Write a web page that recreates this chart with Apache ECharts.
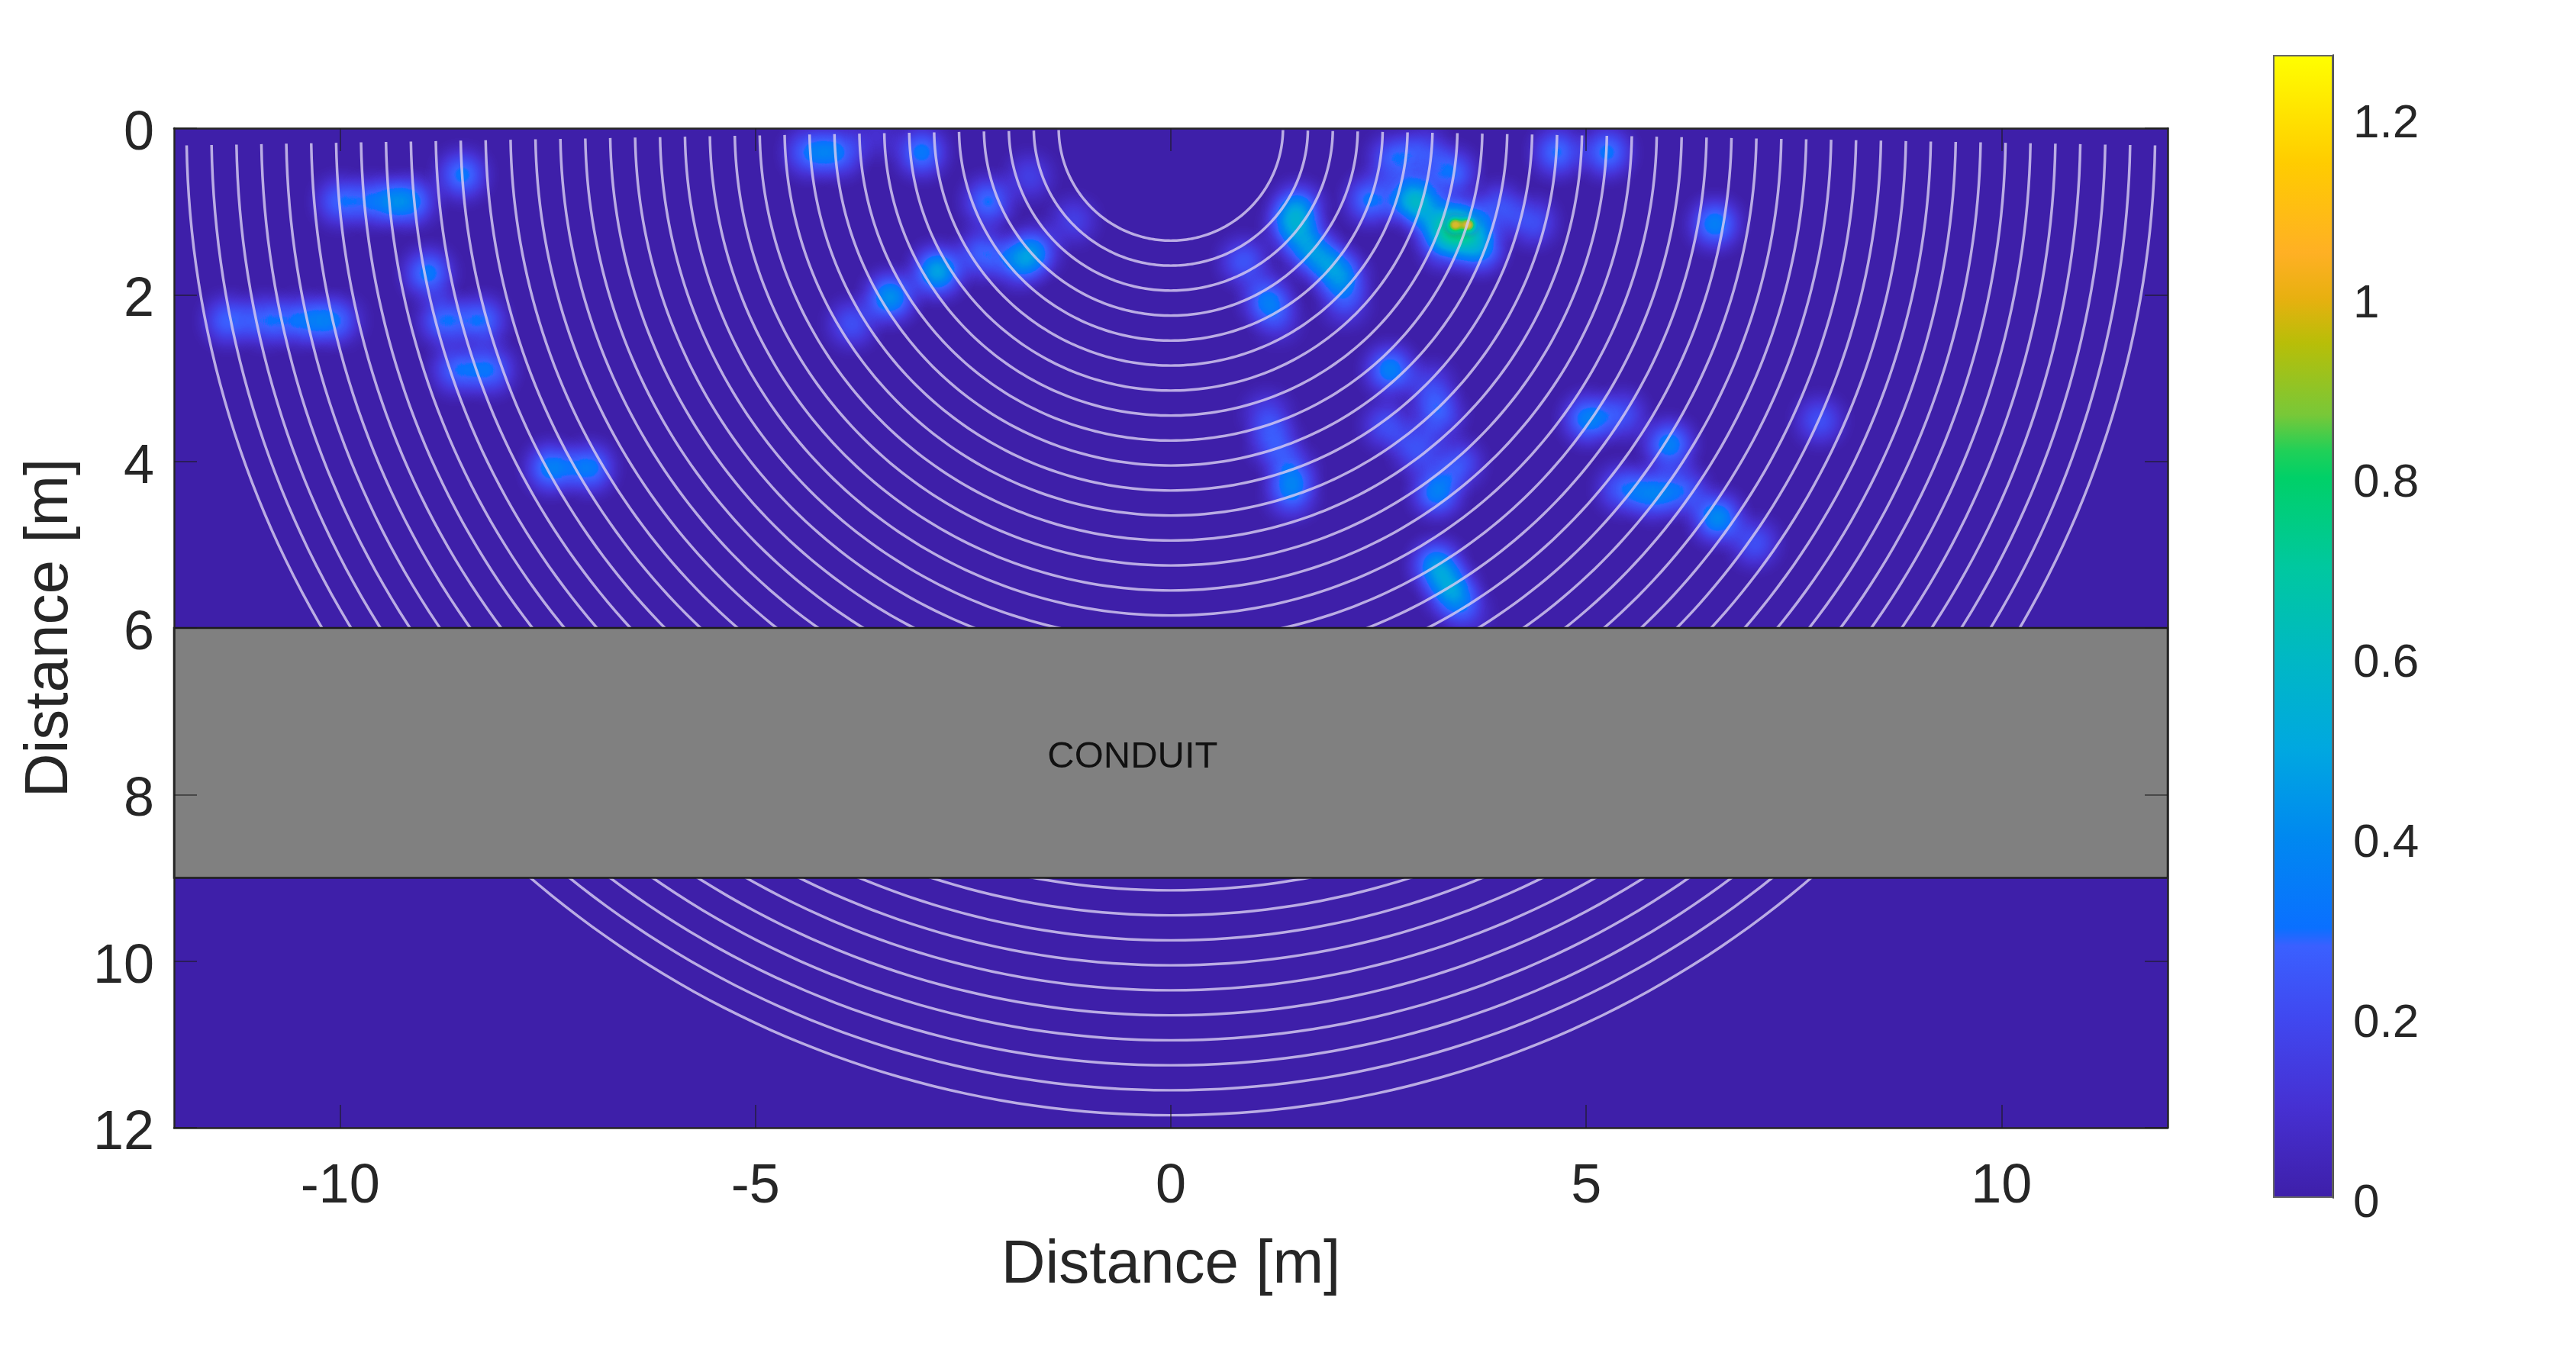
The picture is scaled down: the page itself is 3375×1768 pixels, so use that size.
<!DOCTYPE html>
<html><head><meta charset="utf-8">
<style>html,body{margin:0;padding:0;background:#fff}#c{width:3375px;height:1768px}</style>
<script src="https://cdn.jsdelivr.net/npm/echarts@6/dist/echarts.min.js"></script>
</head><body><div id="c"></div>
<script>
// ---- data ----
const xTicks = [-10, -5, 0, 5, 10];
const yTicks = [0, 2, 4, 6, 8, 10, 12];
const barTicks = [0, 0.2, 0.4, 0.6, 0.8, 1, 1.2];
const barMax = 1.27;
const ringRadii = [1.35,1.65,1.95,2.25,2.55,2.85,3.15,3.45,3.75,4.05,4.35,4.65,4.95,5.25,5.55,5.85,6.15,6.45,6.75,7.05,7.35,7.65,7.95,8.25,8.55,8.85,9.15,9.45,9.75,10.05,10.35,10.65,10.95,11.25,11.55,11.85];
const conduitDepth = [6, 9];
const spotX = [-4.35,-4.0,-3.0,-3.55,-8.53,-10.0,-9.6,-9.3,-9.1,-8.94,-11.35,-10.9,-10.5,-10.2,-10.0,-8.75,-8.3,-8.6,-8.2,-7.46,-7.0,
  -3.84,-3.38,-2.81,-2.27,-1.82,-1.63,-2.2,-1.7,-1.17,
  2.68,3.05,3.38,2.4,2.93,3.5,3.2,3.71,3.3,3.95,4.36,
  1.53,1.45,1.66,1.9,2.07,2.1,0.88,1.16,1.29,
  4.65,5.25,6.55,2.64,3.13,3.22,2.6,2.97,3.46,3.2,
  1.16,1.25,1.45,1.45,3.2,3.38,3.54,
  5.02,5.43,6.0,7.81,5.43,5.8,6.17,6.58,7.03];
const spotY = [0.29,0.29,0.29,0.1,0.56,0.88,0.88,0.88,0.88,1.74,2.31,2.31,2.31,2.31,2.31,2.31,2.31,2.9,2.9,4.08,4.08,
  2.35,2.03,1.72,1.51,1.6,1.47,0.88,0.58,1.11,
  0.375,0.29,0.54,0.86,0.86,1.17,1.13,1.43,1.38,0.96,1.13,
  0.96,1.17,1.43,1.64,1.8,2.1,1.6,2.06,2.31,
  0.29,0.29,1.15,2.9,3.1,3.44,3.57,3.86,4.03,4.37,
  3.44,3.78,4.12,4.39,5.25,5.55,5.8,
  3.49,3.44,3.8,3.51,4.33,4.39,4.35,4.68,4.98];
const spotV = [0.3,0.3,0.33,0.1,0.32,0.28,0.26,0.26,0.22,0.33,0.28,0.28,0.26,0.22,0.18,0.3,0.3,0.28,0.3,0.36,0.34,
  0.22,0.42,0.48,0.28,0.34,0.28,0.3,0.16,0.16,
  0.28,0.22,0.3,0.32,0.56,0.6,0.34,0.42,0.34,0.24,0.22,
  0.36,0.32,0.38,0.3,0.3,0.18,0.24,0.32,0.14,
  0.3,0.32,0.36,0.36,0.18,0.26,0.22,0.24,0.24,0.36,
  0.18,0.24,0.24,0.28,0.42,0.42,0.18,
  0.36,0.22,0.36,0.22,0.26,0.34,0.26,0.4,0.22];
const hotX = [3.42, 3.58];
const hotY = [1.16, 1.16];
const hotV = [1.1, 1.1];
const colorStops = [[0,'#3e1fa9'],[0.1,'#4630d2'],[0.2,'#4048f0'],[0.28,'#3a60ff'],[0.3,'#0a70ff'],[0.4,'#0088f0'],[0.5,'#00a8e0'],[0.6,'#00b8c4'],[0.7,'#00c8a0'],[0.8,'#00d068'],[0.83,'#20d058'],[0.87,'#78c838'],[0.95,'#b8be08'],[1.0,'#e8b010'],[1.05,'#ffb024'],[1.15,'#ffcc00'],[1.27,'#ffff00']];

// ---- layout / style ----
const G = {left:228, top:168, width:2612, height:1310};
const CB = {left:2978, top:72, width:79, height:1498};
const FONT = '"Liberation Sans", Arial, sans-serif';
const TXT = '#262626';
const brushPeak = 0.68;
const hotPeak = 0.99;

function hex(c){return [1,3,5].map(i=>parseInt(c.substr(i,2),16));}
function cmap(v){
  v=Math.max(0,Math.min(barMax,v));
  for(let i=1;i<colorStops.length;i++){
    const [a,ca]=colorStops[i-1],[b,cb]=colorStops[i];
    if(v<=b){const t=(v-a)/(b-a),A=hex(ca),B=hex(cb);
      return 'rgb('+A.map((x,k)=>Math.round(x+(B[k]-x)*t)).join(',')+')';}
  }
  return colorStops[colorStops.length-1][1];
}
const ramp=p=>{const c=[];for(let i=0;i<=255;i++)c.push(cmap(i/255*barMax/p));return c;};

echarts.registerMap('field',{type:'FeatureCollection',features:[{type:'Feature',properties:{name:'field'},
  geometry:{type:'Polygon',coordinates:[[[-12,0],[12,0],[12,-12],[-12,-12],[-12,0]]]}}]});

const tickStyle={color:'#1a1a1a',width:2,opacity:0.55};
const lineStyle={color:'#262626',width:2.5};
const chart=echarts.init(document.getElementById('c'),null,{renderer:'canvas'});
chart.setOption({
  animation:false,backgroundColor:'#fff',
  geo:{map:'field',left:G.left,top:G.top,width:G.width,height:G.height,aspectScale:G.width/G.height/2,roam:false,silent:true,
    itemStyle:{areaColor:'rgba(0,0,0,0)',borderWidth:0},label:{show:false}},
  grid:[{left:G.left,top:G.top,width:G.width,height:G.height,show:true,backgroundColor:colorStops[0][1],borderWidth:0,containLabel:false},
        {left:CB.left,top:CB.top,width:CB.width,height:CB.height,show:false}],
  visualMap:[{show:false,type:'continuous',min:0,max:barMax,seriesIndex:0,inRange:{color:ramp(brushPeak)},calculable:false},
             {show:false,type:'continuous',min:0,max:barMax,seriesIndex:1,inRange:{color:ramp(hotPeak)},calculable:false}],
  xAxis:[
    {type:'value',gridIndex:0,min:-12,max:12,position:'bottom',z:10,
     name:'Distance [m]',nameLocation:'middle',nameGap:141,nameTextStyle:{fontFamily:FONT,fontSize:80,color:TXT},
     axisLine:{lineStyle,onZero:false},splitLine:{show:false},
     axisTick:{inside:true,length:30,lineStyle:tickStyle,customValues:xTicks},
     axisLabel:{fontFamily:FONT,fontSize:72,color:TXT,margin:42,customValues:xTicks,formatter:v=>String(v)}},
    {type:'value',gridIndex:0,min:-12,max:12,position:'top',z:10,
     axisLine:{lineStyle,onZero:false},splitLine:{show:false},
     axisTick:{inside:true,length:30,lineStyle:tickStyle,customValues:xTicks},axisLabel:{show:false}},
    {type:'category',gridIndex:1,data:['scale'],show:false}
  ],
  yAxis:[
    {type:'value',gridIndex:0,min:0,max:12,interval:2,inverse:true,position:'left',z:10,
     name:'Distance [m]',nameLocation:'middle',nameGap:122,nameRotate:90,nameTextStyle:{fontFamily:FONT,fontSize:80,color:TXT},
     axisLine:{lineStyle,onZero:false},splitLine:{show:false},
     axisTick:{inside:true,length:30,lineStyle:tickStyle,customValues:yTicks},
     axisLabel:{fontFamily:FONT,fontSize:72,color:TXT,margin:26,verticalAlign:'top',lineHeight:16,customValues:yTicks,formatter:v=>String(v)}},
    {type:'value',gridIndex:0,min:0,max:12,interval:2,inverse:true,position:'right',z:10,
     axisLine:{lineStyle,onZero:false},splitLine:{show:false},
     axisTick:{inside:true,length:30,lineStyle:tickStyle,customValues:yTicks},axisLabel:{show:false}},
    {type:'value',gridIndex:1,min:0,max:barMax,position:'right',z:10,
     axisLine:{show:true,lineStyle:{color:'#555',width:2},onZero:false},splitLine:{show:false},
     axisTick:{inside:true,length:17,lineStyle:{color:'#222',width:2},customValues:barTicks},
     axisLabel:{fontFamily:FONT,fontSize:62,color:TXT,margin:26,verticalAlign:'top',lineHeight:16,customValues:barTicks,formatter:v=>String(+v.toFixed(1))}}
  ],
  series:[
    {type:'heatmap',coordinateSystem:'geo',geoIndex:0,pointSize:24,blurSize:32,minOpacity:1,maxOpacity:1,silent:true,z:2,
     data:spotX.map((x,i)=>[x,-spotY[i],spotV[i]])},
    {type:'heatmap',coordinateSystem:'geo',geoIndex:0,pointSize:11,blurSize:8,minOpacity:0,maxOpacity:1,silent:true,z:2,
     data:hotX.map((x,i)=>[x,-hotY[i],hotV[i]])},
    {type:'custom',xAxisIndex:0,yAxisIndex:0,z:3,silent:true,clip:true,data:ringRadii.map(r=>[r]),
     renderItem:(p,api)=>{const r=api.value(0),pts=[];
       for(let d=1;d<=179;d+=1){const t=d*Math.PI/180;pts.push(api.coord([r*Math.cos(t),r*Math.sin(t)]));}
       return {type:'polyline',shape:{points:pts},style:{stroke:'rgba(214,204,240,0.82)',lineWidth:3.5,fill:null}};}},
    {type:'custom',xAxisIndex:0,yAxisIndex:0,z:4,silent:true,data:[conduitDepth],
     renderItem:(p,api)=>{const a=api.coord([-12,api.value(0)]),b=api.coord([12,api.value(1)]),m=api.coord([-0.46,7.55]);
       return {type:'group',children:[
         {type:'rect',shape:{x:a[0],y:a[1],width:b[0]-a[0],height:b[1]-a[1]},style:{fill:'#808080',stroke:'#1c1c1c',lineWidth:2.5}},
         {type:'text',style:{text:'CONDUIT',x:m[0],y:m[1],fill:'#111',font:'49px '+FONT,textAlign:'center',textVerticalAlign:'middle'}}]};}},
    {type:'bar',xAxisIndex:2,yAxisIndex:2,barWidth:'100%',silent:true,data:[barMax],
     itemStyle:{borderColor:'#666',borderWidth:2,color:new echarts.graphic.LinearGradient(0,1,0,0,colorStops.map(s=>({offset:s[0]/barMax,color:s[1]})))}}
  ]
});
</script></body></html>
